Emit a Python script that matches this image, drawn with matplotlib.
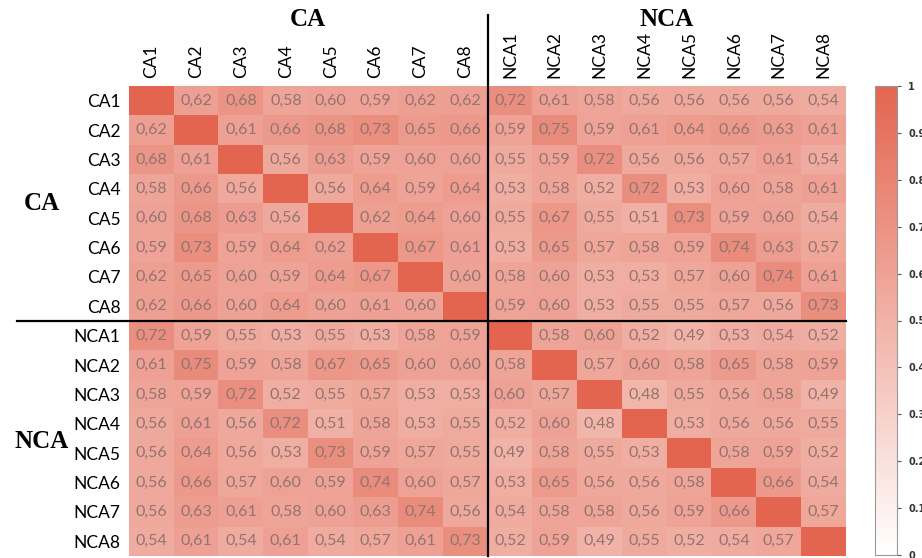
import matplotlib
matplotlib.use('Agg')
import matplotlib.pyplot as plt
import numpy as np
from matplotlib.colors import LinearSegmentedColormap

# labels
labels = ['CA1', 'CA2', 'CA3', 'CA4', 'CA5', 'CA6', 'CA7', 'CA8',
          'NCA1', 'NCA2', 'NCA3', 'NCA4', 'NCA5', 'NCA6', 'NCA7', 'NCA8']
groups = ['CA', 'NCA']

# similarity values, row by row (diagonal = 1)
ca1 = [1, .62, .68, .58, .60, .59, .62, .62, .72, .61, .58, .56, .56, .56, .56, .54]
ca2 = [.62, 1, .61, .66, .68, .73, .65, .66, .59, .75, .59, .61, .64, .66, .63, .61]
ca3 = [.68, .61, 1, .56, .63, .59, .60, .60, .55, .59, .72, .56, .56, .57, .61, .54]
ca4 = [.58, .66, .56, 1, .56, .64, .59, .64, .53, .58, .52, .72, .53, .60, .58, .61]
ca5 = [.60, .68, .63, .56, 1, .62, .64, .60, .55, .67, .55, .51, .73, .59, .60, .54]
ca6 = [.59, .73, .59, .64, .62, 1, .67, .61, .53, .65, .57, .58, .59, .74, .63, .57]
ca7 = [.62, .65, .60, .59, .64, .67, 1, .60, .58, .60, .53, .53, .57, .60, .74, .61]
ca8 = [.62, .66, .60, .64, .60, .61, .60, 1, .59, .60, .53, .55, .55, .57, .56, .73]
nca1 = [.72, .59, .55, .53, .55, .53, .58, .59, 1, .58, .60, .52, .49, .53, .54, .52]
nca2 = [.61, .75, .59, .58, .67, .65, .60, .60, .58, 1, .57, .60, .58, .65, .58, .59]
nca3 = [.58, .59, .72, .52, .55, .57, .53, .53, .60, .57, 1, .48, .55, .56, .58, .49]
nca4 = [.56, .61, .56, .72, .51, .58, .53, .55, .52, .60, .48, 1, .53, .56, .56, .55]
nca5 = [.56, .64, .56, .53, .73, .59, .57, .55, .49, .58, .55, .53, 1, .58, .59, .52]
nca6 = [.56, .66, .57, .60, .59, .74, .60, .57, .53, .65, .56, .56, .58, 1, .66, .54]
nca7 = [.56, .63, .61, .58, .60, .63, .74, .56, .54, .58, .58, .56, .59, .66, 1, .57]
nca8 = [.54, .61, .54, .61, .54, .57, .61, .73, .52, .59, .49, .55, .52, .54, .57, 1]

data = np.array([ca1, ca2, ca3, ca4, ca5, ca6, ca7, ca8,
                 nca1, nca2, nca3, nca4, nca5, nca6, nca7, nca8])
n = len(labels)

cmap = LinearSegmentedColormap.from_list('wr', ['#ffffff', '#e3654f'])

W, H = 922, 558
fig = plt.figure(figsize=(W / 100, H / 100), dpi=100)

# heatmap axes (pixel box 129..846 x 86..556)
ax = fig.add_axes([129 / W, (H - 556) / H, (846 - 129) / W, (556 - 86) / H])
im = ax.imshow(data, cmap=cmap, vmin=0, vmax=1, aspect='auto')

for i in range(n):
    for j in range(n):
        if i != j:
            ax.text(j, i, f'{data[i, j]:.2f}'.replace('.', ','),
                    ha='center', va='center', fontsize=11.5,
                    family='Lato', color='#937370')

ax.set_xticks(range(n))
ax.set_yticks(range(n))
ax.set_xticklabels(labels, rotation=90, family='Lato', fontsize=12.5)
ax.set_yticklabels(labels, family='Lato', fontsize=12.5)
ax.xaxis.tick_top()
ax.tick_params(length=0, pad=6)
for s in ax.spines.values():
    s.set_visible(False)

# group divider lines
row_px = (556 - 86) / n
col_px = (846 - 129) / n
ax.plot([7.5, 7.5], [15.5, -0.5 - (86 - 15) / row_px], color='black', lw=1.6,
        clip_on=False, scalex=False, scaley=False)
ax.plot([-0.5 - (129 - 17) / col_px, 15.5], [7.5, 7.5], color='black', lw=1.6,
        clip_on=False, scalex=False, scaley=False)
ax.set_xlim(-0.5, n - 0.5)
ax.set_ylim(n - 0.5, -0.5)

# group labels
top_y = -0.5 - (86 - 20) / row_px
ax.text(3.5, top_y, groups[0], ha='center', va='center', family='Liberation Serif',
        fontweight='bold', fontsize=18)
ax.text(11.5, top_y, groups[1], ha='center', va='center', family='Liberation Serif',
        fontweight='bold', fontsize=18)
left_x = -0.5 - (129 - 42) / col_px
ax.text(left_x, 3.5, groups[0], ha='center', va='center', family='Liberation Serif',
        fontweight='bold', fontsize=18)
ax.text(left_x, 11.6, groups[1], ha='center', va='center', family='Liberation Serif',
        fontweight='bold', fontsize=18)

# colorbar (labels run off the right edge, as in the source image)
cax = fig.add_axes([875 / W, (H - 555) / H, 22 / W, (555 - 86) / H])
cb = fig.colorbar(im, cax=cax, ticks=np.linspace(0, 1, 11))
cb.outline.set_edgecolor('#999999')
cb.ax.tick_params(length=3, width=0.8, color='#555555', labelsize=7, pad=5)
cb.ax.set_yticklabels(['0' if t == 0 else '1' if t == 1 else f'{t:.1f}'
                       for t in np.linspace(0, 1, 11)], fontweight='bold', color='#333333')

fig.savefig('out.png', dpi=100)
